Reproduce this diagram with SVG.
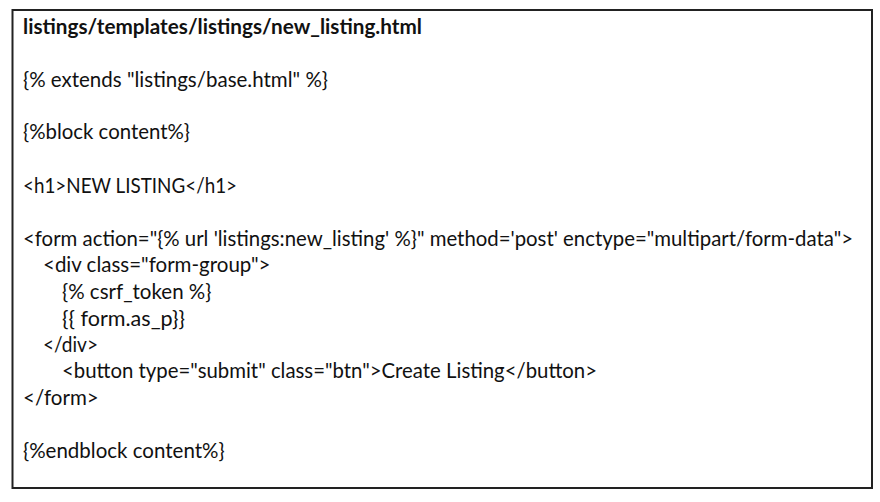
<svg xmlns="http://www.w3.org/2000/svg" width="880" height="502" viewBox="0 0 880 502">
<style>
.c{font-family:Lato,"Open Sans","Liberation Sans",sans-serif;font-size:20.5px;fill:#111}
.b{font-weight:bold}
</style>
<rect width="880" height="502" fill="#fff"/>
<g id="codebox">
<rect x="12.5" y="10" width="859.5" height="478" fill="#fff" stroke="#222" stroke-width="2"/>
<text class="c b" x="23" y="33.5" textLength="399" lengthAdjust="spacingAndGlyphs">listings/templates/listings/new_listing.html</text>
<text class="c" x="23" y="86.5" textLength="305" lengthAdjust="spacingAndGlyphs">{% extends "listings/base.html" %}</text>
<text class="c" x="23" y="139" textLength="167" lengthAdjust="spacingAndGlyphs">{%block content%}</text>
<text class="c" x="23" y="192.5" textLength="214" lengthAdjust="spacingAndGlyphs">&lt;h1&gt;NEW LISTING&lt;/h1&gt;</text>
<text class="c" x="23" y="245.5" textLength="830" lengthAdjust="spacingAndGlyphs">&lt;form action="{% url 'listings:new_listing' %}" method='post' enctype="multipart/form-data"&gt;</text>
<text class="c" x="43" y="272">&lt;div class="form-group"&gt;</text>
<text class="c" x="62" y="298.5">{% csrf_token %}</text>
<text class="c" x="62" y="325.5" textLength="123" lengthAdjust="spacingAndGlyphs">{{ form.as_p}}</text>
<text class="c" x="43" y="352" textLength="55" lengthAdjust="spacingAndGlyphs">&lt;/div&gt;</text>
<text class="c" x="62" y="378" textLength="535" lengthAdjust="spacingAndGlyphs">&lt;button type="submit" class="btn"&gt;Create Listing&lt;/button&gt;</text>
<text class="c" x="23" y="404.5">&lt;/form&gt;</text>
<text class="c" x="23" y="457.5">{%endblock content%}</text>
</g>
</svg>
